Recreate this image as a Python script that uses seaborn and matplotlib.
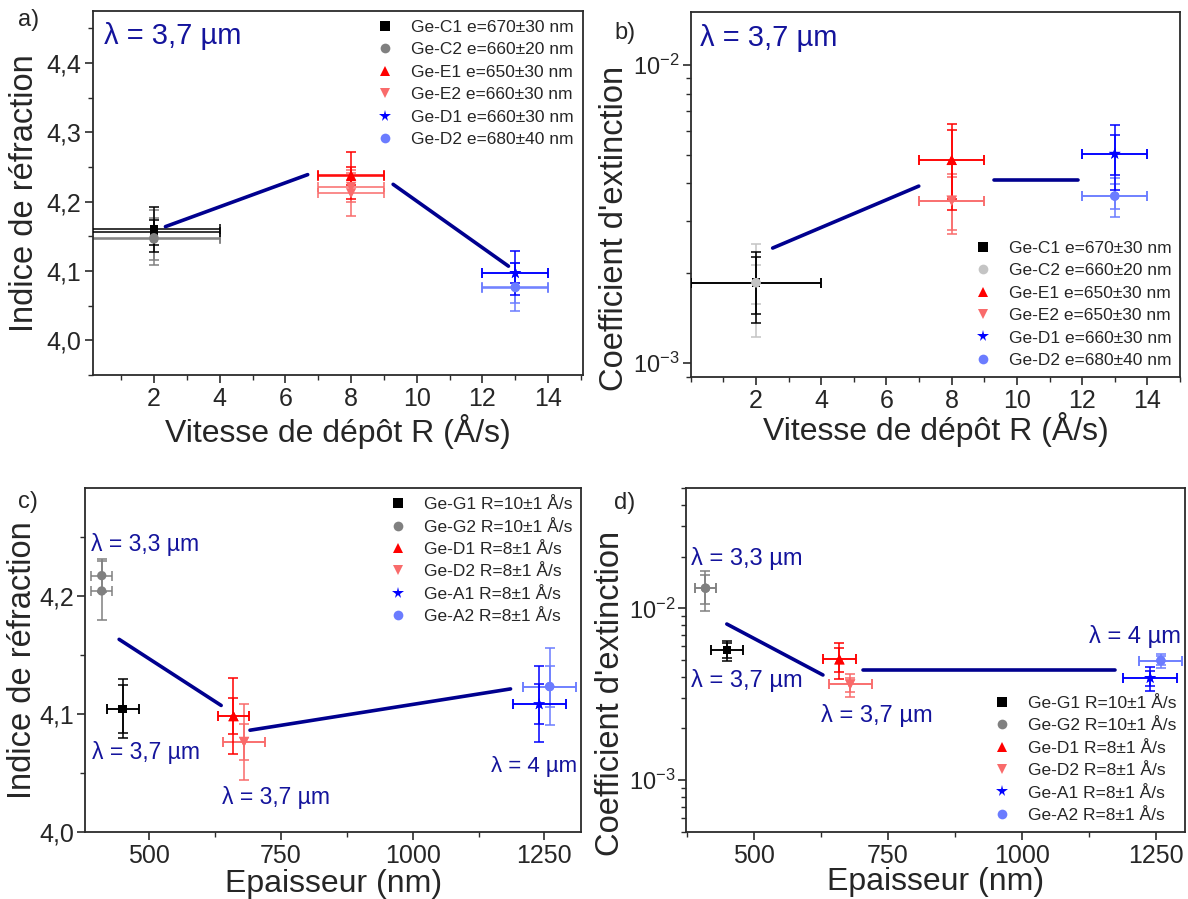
import numpy as np
import pandas as pd
import matplotlib
matplotlib.use("Agg")
import matplotlib.pyplot as plt
import seaborn as sns
from matplotlib.lines import Line2D
from matplotlib.ticker import (MultipleLocator, LogLocator, NullFormatter, FuncFormatter,
                               FixedLocator, LogFormatterSciNotation)

sns.set_theme(style="ticks")
plt.rcParams['font.family'] = ['Liberation Sans', 'DejaVu Sans']
plt.rcParams['mathtext.fontset'] = 'custom'
plt.rcParams['mathtext.rm'] = 'Liberation Sans'
plt.rcParams['axes.unicode_minus'] = True

NAVY = "#00008f"
TXT = "#14149c"

# ---------------- data : panel a (n vs deposition rate) ----------------
a_labels = ["Ge-C1 e=670±30 nm", "Ge-C2 e=660±20 nm", "Ge-E1 e=650±30 nm",
            "Ge-E2 e=660±30 nm", "Ge-D1 e=660±30 nm", "Ge-D2 e=680±40 nm"]
a_x = [[2, 2], [2, 2], [8, 8], [8, 8], [13, 13], [13, 13]]
a_xerr = [[2, 2], [2, 2], [1, 1], [1, 1], [1, 1], [1, 1]]
a_y = [[4.160, 4.156], [4.148, 4.146], [4.238, 4.237], [4.221, 4.212], [4.097, 4.097], [4.077, 4.076]]
a_yerr = [[0.032, 0.018], [0.040, 0.030], [0.034, 0.013], [0.021, 0.033], [0.032, 0.015], [0.034, 0.022]]
a_trend_x = [[2.35, 6.68], [9.28, 12.79]]
a_trend_y = [[4.164, 4.239], [4.225, 4.107]]

# ---------------- data : panel b (k vs deposition rate) ----------------
b_labels = ["Ge-C1 e=670±30 nm", "Ge-C2 e=660±20 nm", "Ge-E1 e=650±30 nm",
            "Ge-E2 e=650±30 nm", "Ge-D1 e=660±30 nm", "Ge-D2 e=680±40 nm"]
b_x = [[2, 2], [2, 2], [8, 8], [8, 8], [13, 13], [13, 13]]
b_xerr = [[2, 2], [2, 2], [1, 1], [1, 1], [1, 1], [1, 1]]
b_y = [[1.86e-3, 1.86e-3], [1.86e-3, 1.86e-3], [4.8e-3, 4.8e-3], [3.5e-3, 3.5e-3],
       [5.03e-3, 5.03e-3], [3.63e-3, 3.63e-3]]
b_yerr = [[0.50e-3, 0.40e-3], [0.64e-3, 0.28e-3], [1.55e-3, 1.25e-3], [0.80e-3, 0.70e-3],
          [1.24e-3, 0.77e-3], [0.55e-3, 0.35e-3]]
b_trend_x = [[2.51, 6.99], [9.31, 11.88]]
b_trend_y = [[2.43e-3, 3.92e-3], [4.1e-3, 4.1e-3]]

# ---------------- data : panel c (n vs thickness) ----------------
c_labels = ["Ge-G1 R=10±1 Å/s", "Ge-G2 R=10±1 Å/s", "Ge-D1 R=8±1 Å/s",
            "Ge-D2 R=8±1 Å/s", "Ge-A1 R=8±1 Å/s", "Ge-A2 R=8±1 Å/s"]
c_x = [[450, 450], [410, 410], [660, 660], [680, 680], [1240, 1240], [1260, 1260]]
c_xerr = [[30, 30], [20, 20], [30, 30], [40, 40], [50, 50], [50, 50]]
c_y = [[4.104, 4.104], [4.217, 4.204], [4.098, 4.098], [4.076, 4.076], [4.108, 4.108], [4.123, 4.123]]
c_yerr = [[0.025, 0.020], [0.014, 0.025], [0.032, 0.015], [0.032, 0.015], [0.032, 0.017], [0.033, 0.017]]
c_trend_x = [[443, 636.6], [691.3, 1185.7]]
c_trend_y = [[4.163, 4.107], [4.086, 4.121]]

# ---------------- data : panel d (k vs thickness) ----------------
d_labels = c_labels
d_x = [[450, 450], [410, 410], [660, 660], [680, 680], [1240, 1240], [1260, 1260]]
d_xerr = [[30, 30], [20, 20], [30, 30], [40, 40], [50, 50], [40, 40]]
d_y = [[5.71e-3, 5.71e-3], [1.31e-2, 1.31e-2], [5.05e-3, 5.05e-3], [3.6e-3, 3.6e-3],
       [3.93e-3, 3.93e-3], [4.96e-3, 4.96e-3]]
d_yerr = [[0.75e-3, 0.55e-3], [0.34e-2, 0.25e-2], [1.2e-3, 0.8e-3], [0.54e-3, 0.35e-3],
          [0.63e-3, 0.40e-3], [0.46e-3, 0.30e-3]]
d_trend_x = [[449.8, 629.2], [703.1, 1174.6]]
d_trend_y = [[8.1e-3, 4.09e-3], [4.37e-3, 4.37e-3]]

# ---------------- styles ----------------
markers = ['s', 'o', '^', 'v', '*', 'o']
msizes = [40, 45, 55, 55, 80, 45]
colors_main = ["#000000", "#808080", "#ff0000", "#f96b6b", "#0000ff", "#6b7cff"]
colors_b = ["#000000", "#c4c4c4", "#ff0000", "#f96b6b", "#0000ff", "#6b7cff"]
series_z = [2.6, 2.2, 2.6, 2.2, 2.6, 2.2]

W, H = 1188, 899
fig = plt.figure(figsize=(W / 100, H / 100), dpi=100)


def add_ax(l, r, t, b):
    return fig.add_axes([l / W, 1 - b / H, (r - l) / W, (b - t) / H])


ax_a = add_ax(92.5, 582.7, 11, 375)
ax_b = add_ax(690.8, 1180, 12.3, 376.7)
ax_c = add_ax(85.4, 580.8, 488.3, 831.7)
ax_d = add_ax(686.2, 1185, 488.3, 831.7)


def draw_series(ax, labels, xs, xerrs, ys, yerrs, colors):
    rows = []
    for i, lab in enumerate(labels):
        for xv, yv, xe, ye in zip(xs[i], ys[i], xerrs[i], yerrs[i]):
            ax.errorbar(xv, yv, xerr=xe, yerr=ye, fmt='none', ecolor=colors[i],
                        elinewidth=1.1, capsize=3.5, capthick=1.1, zorder=series_z[i])
            rows.append(dict(x=xv, y=yv, s=lab))
    df = pd.DataFrame(rows)
    sns.scatterplot(data=df, x='x', y='y', hue='s', style='s', size='s',
                    palette=dict(zip(labels, colors)),
                    markers=dict(zip(labels, markers)),
                    sizes=dict(zip(labels, msizes)),
                    linewidth=0, legend=False, ax=ax, zorder=3)


def draw_trend(ax, tx, ty):
    rows = []
    for k, (xx, yy) in enumerate(zip(tx, ty)):
        for xv, yv in zip(xx, yy):
            rows.append(dict(seg=k, x=xv, y=yv))
    df = pd.DataFrame(rows)
    sns.lineplot(data=df, x='x', y='y', units='seg', estimator=None, sort=False,
                 color=NAVY, lw=2.6, ax=ax, legend=False, zorder=4)


def add_legend(ax, labels, colors, loc):
    handles = [Line2D([], [], ls='none', marker=m, color=c, markersize=(8.5 if m == '*' else 7),
                      markeredgewidth=0) for m, c in zip(markers, colors)]
    ax.legend(handles, labels, loc=loc, frameon=False, fontsize=12.5,
              handlelength=1.0, handletextpad=1.0, labelspacing=0.42,
              borderpad=0.2, borderaxespad=0.3)


def style_axes(ax, ylabelsize=18):
    for sp in ax.spines.values():
        sp.set_visible(True)
        sp.set_linewidth(1.3)
        sp.set_color("#2b2b2b")
    ax.tick_params(which='major', direction='out', length=6, width=1.2, labelsize=18,
                   top=False, right=False, color="#2b2b2b", pad=3)
    ax.tick_params(axis='y', which='major', labelsize=ylabelsize, pad=2)
    ax.tick_params(which='minor', direction='out', length=3.5, width=1.0,
                   top=False, right=False, color="#2b2b2b")


comma = FuncFormatter(lambda v, p: f"{v:.1f}".replace('.', ','))

# ---------- panel a ----------
draw_series(ax_a, a_labels, a_x, a_xerr, a_y, a_yerr, colors_main)
draw_trend(ax_a, a_trend_x, a_trend_y)
ax_a.set_xlim(0.13, 15.05)
ax_a.set_ylim(3.95, 4.475)
ax_a.xaxis.set_major_locator(FixedLocator([2, 4, 6, 8, 10, 12, 14]))
ax_a.xaxis.set_minor_locator(MultipleLocator(1))
ax_a.yaxis.set_major_locator(FixedLocator([4.0, 4.1, 4.2, 4.3, 4.4]))
ax_a.yaxis.set_minor_locator(MultipleLocator(0.05))
ax_a.yaxis.set_major_formatter(comma)
add_legend(ax_a, a_labels, colors_main, 'upper right')
ax_a.text(0.48, 4.4385, "λ = 3,7 µm", color=TXT, fontsize=21, ha='left', va='center')

# ---------- panel b ----------
draw_series(ax_b, b_labels, b_x, b_xerr, b_y, b_yerr, colors_b)
ax_b.set_yscale('log')
draw_trend(ax_b, b_trend_x, b_trend_y)
ax_b.set_xlim(0, 15)
ax_b.set_ylim(9.0e-4, 1.5e-2)
ax_b.xaxis.set_major_locator(FixedLocator([2, 4, 6, 8, 10, 12, 14]))
ax_b.xaxis.set_minor_locator(MultipleLocator(1))
ax_b.yaxis.set_major_locator(FixedLocator([1e-3, 1e-2]))
ax_b.yaxis.set_minor_locator(LogLocator(base=10, subs=np.arange(2, 10), numticks=20))
ax_b.yaxis.set_minor_formatter(NullFormatter())
add_legend(ax_b, b_labels, colors_b, 'lower right')
ax_b.text(0.267, 1.233e-2, "λ = 3,7 µm", color=TXT, fontsize=21, ha='left', va='center')

# ---------- panel c ----------
draw_series(ax_c, c_labels, c_x, c_xerr, c_y, c_yerr, colors_main)
draw_trend(ax_c, c_trend_x, c_trend_y)
ax_c.set_xlim(379, 1319)
ax_c.set_ylim(4.0, 4.291)
ax_c.xaxis.set_major_locator(FixedLocator([500, 750, 1000, 1250]))
ax_c.xaxis.set_minor_locator(MultipleLocator(125))
ax_c.yaxis.set_major_locator(FixedLocator([4.0, 4.1, 4.2]))
ax_c.yaxis.set_minor_locator(MultipleLocator(0.05))
ax_c.yaxis.set_major_formatter(comma)
add_legend(ax_c, c_labels, colors_main, 'upper right')
ax_c.text(389.7, 4.243, "λ = 3,3 µm", color=TXT, fontsize=16.5, ha='left', va='center')
ax_c.text(391.9, 4.067, "λ = 3,7 µm", color=TXT, fontsize=16.5, ha='left', va='center')
ax_c.text(638, 4.029, "λ = 3,7 µm", color=TXT, fontsize=16.5, ha='left', va='center')
ax_c.text(1312, 4.055, "λ = 4 µm", color=TXT, fontsize=16, ha='right', va='center')

# ---------- panel d ----------
draw_series(ax_d, d_labels, d_x, d_xerr, d_y, d_yerr, colors_main)
ax_d.set_yscale('log')
draw_trend(ax_d, d_trend_x, d_trend_y)
ax_d.set_xlim(374, 1305)
ax_d.set_ylim(5.0e-4, 5.0e-2)
ax_d.xaxis.set_major_locator(FixedLocator([500, 750, 1000, 1250]))
ax_d.xaxis.set_minor_locator(MultipleLocator(125))
ax_d.yaxis.set_major_locator(FixedLocator([1e-3, 1e-2]))
ax_d.yaxis.set_minor_locator(LogLocator(base=10, subs=np.arange(2, 10), numticks=20))
ax_d.yaxis.set_minor_formatter(NullFormatter())
add_legend(ax_d, d_labels, colors_main, 'lower right')
ax_d.text(383, 1.95e-2, "λ = 3,3 µm", color=TXT, fontsize=17, ha='left', va='center')
ax_d.text(383, 3.82e-3, "λ = 3,7 µm", color=TXT, fontsize=17, ha='left', va='center')
ax_d.text(625.6, 2.39e-3, "λ = 3,7 µm", color=TXT, fontsize=17, ha='left', va='center')
ax_d.text(1126.6, 6.84e-3, "λ = 4 µm", color=TXT, fontsize=17, ha='left', va='center')

# ---------- labels ----------
for ax in (ax_b, ax_d):
    ax.yaxis.set_major_formatter(LogFormatterSciNotation())

label_specs = [
    (ax_a, "Vitesse de dépôt R (Å/s)", "Indice de réfraction", -0.155, (-0.139, 0.5), 18),
    (ax_b, "Vitesse de dépôt R (Å/s)", "Coefficient d'extinction", -0.146, (-0.156, 0.408), 17),
    (ax_c, "Epaisseur (nm)", "Indice de réfraction", -0.152, (-0.126, 0.5), 18),
    (ax_d, "Epaisseur (nm)", "Coefficient d'extinction", -0.147, (-0.152, 0.404), 17),
]
for ax, xl, yl, xly, ylc, yls in label_specs:
    style_axes(ax, yls)
    ax.set_xlabel(xl, fontsize=23, va='center')
    ax.set_ylabel(yl, fontsize=23.5, va='center')
    ax.xaxis.set_label_coords(0.5, xly)
    ax.yaxis.set_label_coords(*ylc)

fig.text(28.8 / W, 1 - 20 / H, "a)", fontsize=17, ha='center', va='center')
fig.text(625.5 / W, 1 - 33 / H, "b)", fontsize=17, ha='center', va='center')
fig.text(27.8 / W, 1 - 501.7 / H, "c)", fontsize=17, ha='center', va='center')
fig.text(624.5 / W, 1 - 503 / H, "d)", fontsize=17, ha='center', va='center')

fig.savefig("out.png", dpi=100, facecolor='white')
